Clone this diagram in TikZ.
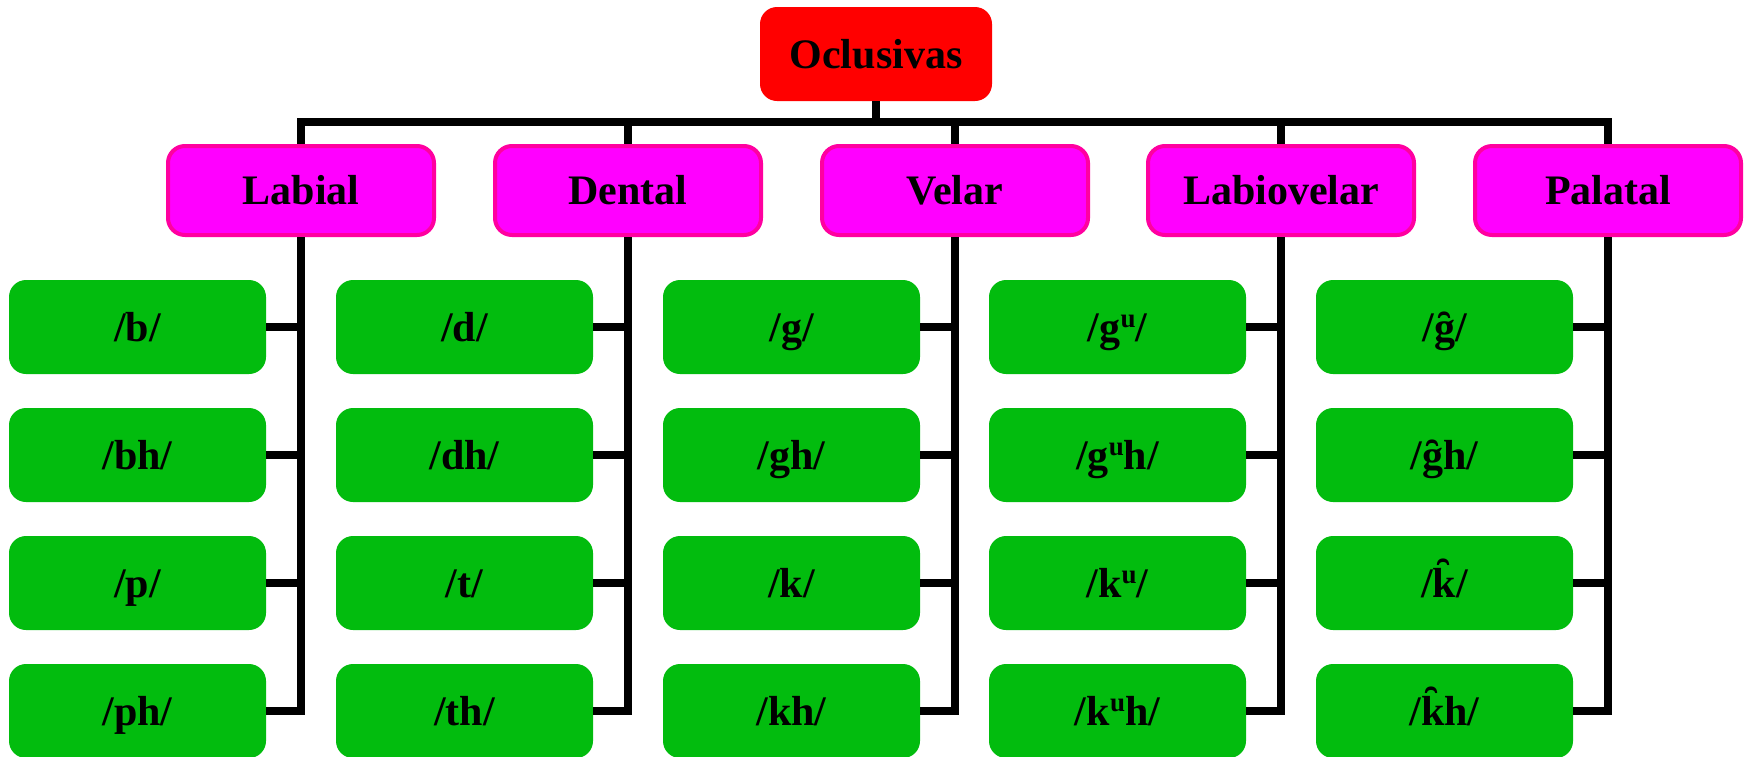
\documentclass[tikz,border=0pt]{standalone}
\usepackage{fontspec}
\setmainfont{Liberation Serif}
\definecolor{ocred}{RGB}{255,0,0}
\definecolor{ocmag}{RGB}{255,0,255}
\definecolor{ocmagb}{RGB}{255,0,160}
\definecolor{ocgreen}{RGB}{2,188,14}
\newcommand{\upu}{\raisebox{14pt}{\fontsize{27}{29}\selectfont u}}
\begin{document}
\begin{tikzpicture}[x=1pt,y=-1pt,
  font=\fontsize{42}{50}\selectfont\bfseries,
  box/.style={rounded corners=17pt, inner sep=0pt, align=center, text height=36pt, text depth=8pt},
  topbox/.style={box, fill=ocred, minimum width=232pt, minimum height=94pt},
  catbox/.style={box, fill=ocmag, draw=ocmagb, line width=4pt, minimum width=266pt, minimum height=89pt},
  leafbox/.style={box, fill=ocgreen, minimum width=257pt, minimum height=94pt},
  wire/.style={line width=7.5pt, draw=black}]
\useasboundingbox (0,0) rectangle (1752,756);
\node[topbox] (top) at (876,54) {Oclusivas};
\foreach \n/\x/\t in {c1/301/Labial, c2/628/Dental, c3/955/Velar, c4/1281/Labiovelar, c5/1608/Palatal}{
  \node[catbox] (\n) at (\x,190.5) {\t};
}
% leaf positions
\foreach \c/\x in {c1/301, c2/628, c3/955, c4/1281, c5/1608}{
  \foreach \r/\y in {1/327, 2/455, 3/583, 4/711}{
    \coordinate (\c-\r-pos) at ({\x-163.5},\y);
  }
}
\node[leafbox] (c1-1) at (c1-1-pos) {/b/};
\node[leafbox] (c1-2) at (c1-2-pos) {/bh/};
\node[leafbox] (c1-3) at (c1-3-pos) {/p/};
\node[leafbox] (c1-4) at (c1-4-pos) {/ph/};
\node[leafbox] (c2-1) at (c2-1-pos) {/d/};
\node[leafbox] (c2-2) at (c2-2-pos) {/dh/};
\node[leafbox] (c2-3) at (c2-3-pos) {/t/};
\node[leafbox] (c2-4) at (c2-4-pos) {/th/};
\node[leafbox] (c3-1) at (c3-1-pos) {/g/};
\node[leafbox] (c3-2) at (c3-2-pos) {/gh/};
\node[leafbox] (c3-3) at (c3-3-pos) {/k/};
\node[leafbox] (c3-4) at (c3-4-pos) {/kh/};
\node[leafbox] (c4-1) at (c4-1-pos) {/g\upu/};
\node[leafbox] (c4-2) at (c4-2-pos) {/g\upu h/};
\node[leafbox] (c4-3) at (c4-3-pos) {/k\upu/};
\node[leafbox] (c4-4) at (c4-4-pos) {/k\upu h/};
\node[leafbox] (c5-1) at (c5-1-pos) {/g̑/};
\node[leafbox] (c5-2) at (c5-2-pos) {/g̑h/};
\node[leafbox] (c5-3) at (c5-3-pos) {/k̑/};
\node[leafbox] (c5-4) at (c5-4-pos) {/k̑h/};
% wires
\foreach \c in {c1,c2,c3,c4,c5}{
  \draw[wire] (top.south) -- ++(0,21) -| (\c.north);
  \foreach \r in {1,2,3,4}{
    \draw[wire] (\c.south) |- (\c-\r.east);
  }
}
\end{tikzpicture}
\end{document}
